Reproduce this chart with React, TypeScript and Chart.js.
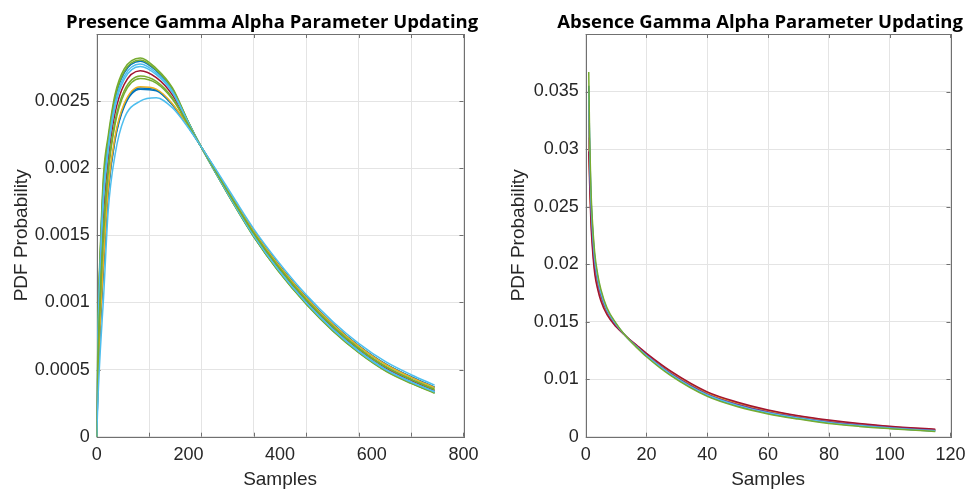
import { useEffect, useRef } from 'react';
import { Chart, registerables } from 'chart.js';

Chart.register(...registerables);

const FONT = "'Liberation Sans', Arial, Helvetica, sans-serif";
const TITLE_FONT = "'Open Sans', 'DejaVu Sans', sans-serif";
const TEXT = '#262626';
const FRAME = '#707070';
const GRID = '#e4e4e4';

// MATLAB default colours
const BLUE = '#0072BD';
const ORANGE = '#D95319';
const YELLOW = '#EDB120';
const PURPLE = '#7E2F8E';
const GREEN = '#77AC30';
const LIGHTBLUE = '#4DBEEE';
const DARKRED = '#A2142F';

// ---------- Presence panel ----------
const presenceTitle = 'Presence Gamma Alpha Parameter Updating';
const presenceX = [0, 3, 8, 15, 25, 40, 60, 95, 130, 165, 200, 226, 260, 300, 344, 395, 458, 516, 572, 631, 687, 737];
const presenceA = [0, 0.00085, 0.00142, 0.00196, 0.00224, 0.00255, 0.00274, 0.002822, 0.002743, 0.0026, 0.002345, 0.00217, 0.001961, 0.0017245, 0.001481, 0.001238, 0.000983, 0.000785, 0.000624, 0.000487, 0.000395, 0.000324];
const presenceB = [0, 0.0008225, 0.0013815, 0.001914, 0.002212, 0.0025275, 0.0027215, 0.0028067, 0.0027321, 0.0025915, 0.0023425, 0.00217, 0.0019625, 0.001727, 0.001484, 0.0012415, 0.0009865, 0.0007885, 0.0006275, 0.0004905, 0.0003982, 0.000327];
const presenceC = [0, 0.000806, 0.0013584, 0.0018864, 0.0021952, 0.002514, 0.0027104, 0.0027974, 0.0027255, 0.0025864, 0.002341, 0.00217, 0.0019634, 0.0017285, 0.0014858, 0.0012436, 0.0009886, 0.0007906, 0.0006296, 0.0004926, 0.0004002, 0.0003288];
const presenceD = [0, 0.0007675, 0.0013045, 0.001822, 0.002156, 0.0024825, 0.0026845, 0.002776, 0.0027102, 0.0025745, 0.0023375, 0.00217, 0.0019655, 0.001732, 0.00149, 0.0012485, 0.0009935, 0.0007955, 0.0006345, 0.0004975, 0.0004047, 0.000333];
const presenceE = [0, 0.0007345, 0.0012583, 0.0017668, 0.0021224, 0.0024555, 0.0026623, 0.0027575, 0.002697, 0.0025643, 0.0023345, 0.00217, 0.0019673, 0.001735, 0.0014936, 0.0012527, 0.0009977, 0.0007997, 0.0006387, 0.0005017, 0.0004086, 0.0003366];
const presenceF = [0, 0.0006795, 0.0011813, 0.0016748, 0.0020664, 0.0024105, 0.0026253, 0.0027268, 0.0026751, 0.0025473, 0.0023295, 0.00217, 0.0019703, 0.00174, 0.0014996, 0.0012597, 0.0010047, 0.0008067, 0.0006457, 0.0005087, 0.0004151, 0.0003426];
const presenceG = [0, 0.000608, 0.0010812, 0.0015552, 0.0019936, 0.002352, 0.0025772, 0.0026869, 0.0026466, 0.0025252, 0.002323, 0.00217, 0.0019742, 0.0017465, 0.0015074, 0.0012688, 0.0010138, 0.0008158, 0.0006548, 0.0005178, 0.0004236, 0.0003504];
const presenceH = [0, 0.000575, 0.001035, 0.0015, 0.00196, 0.002325, 0.002555, 0.0026685, 0.0026335, 0.002515, 0.00232, 0.00217, 0.001976, 0.0017495, 0.001511, 0.001273, 0.001018, 0.00082, 0.000659, 0.000522, 0.0004275, 0.000354];
const presenceI = [0, 0.000465, 0.000881, 0.001316, 0.001848, 0.002235, 0.002481, 0.0026071, 0.0025897, 0.002481, 0.00231, 0.00217, 0.001982, 0.0017595, 0.001523, 0.001287, 0.001032, 0.000834, 0.000673, 0.000536, 0.0004405, 0.000366];
const presenceJ = [0, 0.0004485, 0.0008579, 0.0012884, 0.0018312, 0.0022215, 0.0024699, 0.0025979, 0.0025831, 0.0024759, 0.0023085, 0.00217, 0.0019829, 0.001761, 0.0015248, 0.0012891, 0.0010341, 0.0008361, 0.0006751, 0.0005381, 0.0004424, 0.0003678];
const presenceK = [0, 0.000432, 0.0008348, 0.0012608, 0.0018144, 0.002208, 0.0024588, 0.0025887, 0.0025766, 0.0024708, 0.002307, 0.00217, 0.0019838, 0.0017625, 0.0015266, 0.0012912, 0.0010362, 0.0008382, 0.0006772, 0.0005402, 0.0004444, 0.0003696];
const presenceL = [0, 0.0003, 0.00065, 0.00104, 0.00168, 0.0021, 0.00237, 0.0025, 0.002525, 0.00245, 0.0023, 0.00217, 0.001991, 0.0017745, 0.001541, 0.001308, 0.001053, 0.000855, 0.000694, 0.000557, 0.00046, 0.000384];
const presenceSeries = [
  { values: presenceL, color: LIGHTBLUE },
  { values: presenceH, color: GREEN },
  { values: presenceG, color: GREEN },
  { values: presenceI, color: YELLOW },
  { values: presenceE, color: LIGHTBLUE },
  { values: presenceD, color: LIGHTBLUE },
  { values: presenceF, color: DARKRED },
  { values: presenceB, color: GREEN },
  { values: presenceA, color: GREEN },
  { values: presenceC, color: BLUE },
  { values: presenceK, color: BLUE },
  { values: presenceJ, color: BLUE },
];
const presenceXLabels = { min: 0, max: 800, step: 200 };
const presenceXGridCount = 8;
const presenceY = { min: 0, max: 0.003, step: 0.0005 };

// ---------- Absence panel ----------
const absenceTitle = 'Absence Gamma Alpha Parameter Updating';
const absenceX = [1, 1.3, 1.7, 2.2, 3, 4, 5, 7, 10, 13, 17, 20, 28, 40, 50, 60, 70, 80, 90, 100, 115];
const absenceA = [0.0367, 0.031, 0.0267, 0.0238, 0.0209, 0.01905, 0.0178, 0.0162, 0.01485, 0.0138, 0.0127, 0.01195, 0.0103, 0.0085, 0.0076, 0.006975, 0.00653, 0.00615, 0.005895, 0.0057, 0.00545];
const absenceB = [0.0355, 0.0302, 0.0261, 0.02332, 0.02054, 0.01879, 0.0176, 0.01608, 0.01479, 0.0138, 0.01274, 0.01201, 0.01038, 0.00858, 0.00768, 0.007045, 0.00659, 0.00621, 0.005945, 0.00574, 0.00549];
const absenceC = [0.035, 0.0298, 0.0258, 0.02308, 0.02036, 0.01866, 0.0175, 0.01602, 0.01476, 0.0138, 0.01276, 0.01204, 0.01042, 0.00862, 0.00772, 0.00708, 0.00662, 0.00624, 0.00597, 0.00576, 0.00551];
const absenceD = [0.0342, 0.029, 0.0252, 0.0226, 0.02, 0.0184, 0.0173, 0.0159, 0.0147, 0.0138, 0.0128, 0.0121, 0.0105, 0.0087, 0.0078, 0.00715, 0.00668, 0.0063, 0.00602, 0.0058, 0.00555];
const absenceE = [0.0325, 0.0284, 0.02475, 0.02224, 0.01973, 0.018205, 0.01715, 0.01581, 0.014655, 0.0138, 0.01283, 0.012145, 0.01056, 0.00876, 0.00786, 0.007203, 0.006725, 0.006345, 0.006058, 0.00583, 0.00558];
const absenceF = [0.031, 0.0278, 0.0243, 0.02188, 0.01946, 0.01801, 0.017, 0.01572, 0.01461, 0.0138, 0.01286, 0.01219, 0.01062, 0.00882, 0.00792, 0.007255, 0.00677, 0.00639, 0.006095, 0.00586, 0.00561];
const absenceG = [0.0298, 0.027, 0.0237, 0.0214, 0.0191, 0.01775, 0.0168, 0.0156, 0.01455, 0.0138, 0.0129, 0.01225, 0.0107, 0.0089, 0.008, 0.007325, 0.00683, 0.00645, 0.006145, 0.0059, 0.00565];
const absenceSeries = [
  { values: absenceA, color: GREEN },
  { values: absenceC, color: LIGHTBLUE },
  { values: absenceD, color: PURPLE },
  { values: absenceG, color: DARKRED },
  { values: absenceE, color: YELLOW },
  { values: absenceF, color: ORANGE },
  { values: absenceB, color: BLUE },
];
const absenceXAxis = { min: 0, max: 120, step: 20 };
const absenceY = { min: 0.005, max: 0.04, step: 0.005 };
const absenceBottomLabel = '0';

const X_TITLE = 'Samples';
const Y_TITLE = 'PDF Probability';

const W = 973;
const H = 491;

function framePlugin(title: string, gridXId: string) {
  return {
    id: 'frameAndTitle',
    beforeDatasetsDraw(chart: any) {
      const { ctx, chartArea: a } = chart;
      const xs = chart.scales[gridXId];
      const ys = chart.scales.y;
      ctx.save();
      ctx.strokeStyle = FRAME;
      ctx.lineWidth = 1;
      const tl = 4;
      ctx.beginPath();
      xs.ticks.forEach((t: any) => {
        const px = Math.round(xs.getPixelForValue(t.value)) + 0.5;
        ctx.moveTo(px, a.bottom);
        ctx.lineTo(px, a.bottom - tl);
        ctx.moveTo(px, a.top);
        ctx.lineTo(px, a.top + tl);
      });
      ys.ticks.forEach((t: any) => {
        const py = Math.round(ys.getPixelForValue(t.value)) + 0.5;
        ctx.moveTo(a.left, py);
        ctx.lineTo(a.left + tl, py);
        ctx.moveTo(a.right, py);
        ctx.lineTo(a.right - tl, py);
      });
      ctx.stroke();
      ctx.strokeRect(Math.round(a.left) + 0.5, Math.round(a.top) + 0.5, Math.round(a.right - a.left), Math.round(a.bottom - a.top));
      ctx.restore();
    },
    afterDraw(chart: any) {
      const { ctx, chartArea: a } = chart;
      ctx.save();
      ctx.font = `bold 18.5px ${TITLE_FONT}`;
      ctx.fillStyle = '#000';
      ctx.textAlign = 'center';
      ctx.textBaseline = 'alphabetic';
      ctx.fillText(title, (a.left + a.right) / 2 - 8, a.top - 6);
      ctx.restore();
    },
  };
}

function fmt(v: number, digits: number) {
  return String(parseFloat(v.toFixed(digits)));
}

function buildPresence(): any {
  return {
    type: 'line',
    data: {
      datasets: presenceSeries.map((s, i) => ({
        label: 'curve ' + (i + 1),
        data: presenceX.map((x, j) => ({ x, y: s.values[j] })),
        borderColor: s.color,
        borderWidth: 1.5,
        pointRadius: 0,
        fill: false,
        cubicInterpolationMode: 'monotone',
        xAxisID: 'x',
        yAxisID: 'y',
      })),
    },
    options: {
      responsive: false,
      animation: false,
      events: [],
      layout: { padding: { top: 34, right: 17.7, bottom: 0, left: 0 } },
      plugins: { legend: { display: false }, title: { display: false }, tooltip: { enabled: false } },
      scales: {
        x: {
          type: 'linear',
          position: 'bottom',
          min: presenceXLabels.min,
          max: presenceXLabels.max,
          grid: { display: false, drawTicks: false },
          border: { display: false },
          ticks: { stepSize: presenceXLabels.step, padding: 7.5, color: TEXT, font: { size: 18, family: FONT }, maxRotation: 0, callback: (v: number) => fmt(v, 0) },
          title: { display: true, text: X_TITLE, color: TEXT, font: { size: 19, family: FONT }, padding: { top: 0, bottom: 0 } },
          afterFit: (s: any) => { s.height = 54.3; },
        },
        xg: {
          type: 'linear',
          position: 'bottom',
          min: presenceXLabels.min,
          max: presenceXLabels.max,
          grid: { display: true, color: GRID, drawTicks: false },
          border: { display: false },
          ticks: { display: false, count: presenceXGridCount },
          afterFit: (s: any) => { s.height = 0; },
        },
        y: {
          type: 'linear',
          min: presenceY.min,
          max: presenceY.max,
          grid: { color: GRID, drawTicks: false },
          border: { display: false },
          ticks: {
            stepSize: presenceY.step,
            padding: 7,
            color: TEXT,
            font: { size: 18, family: FONT },
            callback: (v: number) => (v >= presenceY.max - 1e-9 ? '' : fmt(v, 4)),
          },
          title: { display: true, text: Y_TITLE, color: TEXT, font: { size: 19, family: FONT }, padding: { top: 10.3, bottom: 0 } },
          afterFit: (s: any) => { s.width = 96.7; },
        },
      },
    },
    plugins: [framePlugin(presenceTitle, 'xg')],
  };
}

function buildAbsence(): any {
  return {
    type: 'line',
    data: {
      datasets: absenceSeries.map((s, i) => ({
        label: 'curve ' + (i + 1),
        data: absenceX.map((x, j) => ({ x, y: s.values[j] })),
        borderColor: s.color,
        borderWidth: 1.5,
        pointRadius: 0,
        fill: false,
        cubicInterpolationMode: 'monotone',
      })),
    },
    options: {
      responsive: false,
      animation: false,
      events: [],
      layout: { padding: { top: 34, right: 16.3, bottom: 0, left: 0 } },
      plugins: { legend: { display: false }, title: { display: false }, tooltip: { enabled: false } },
      scales: {
        x: {
          type: 'linear',
          position: 'bottom',
          min: absenceXAxis.min,
          max: absenceXAxis.max,
          grid: { display: true, color: GRID, drawTicks: false },
          border: { display: false },
          ticks: { stepSize: absenceXAxis.step, padding: 7.5, color: TEXT, font: { size: 18, family: FONT }, maxRotation: 0, callback: (v: number) => fmt(v, 0) },
          title: { display: true, text: X_TITLE, color: TEXT, font: { size: 19, family: FONT }, padding: { top: 0, bottom: 0 } },
          afterFit: (s: any) => { s.height = 54.3; },
        },
        y: {
          type: 'linear',
          min: absenceY.min,
          max: absenceY.max,
          grid: { color: GRID, drawTicks: false },
          border: { display: false },
          ticks: {
            stepSize: absenceY.step,
            padding: 7,
            color: TEXT,
            font: { size: 18, family: FONT },
            callback: (v: number) => {
              if (v >= absenceY.max - 1e-9) return '';
              if (Math.abs(v - absenceY.min) < 1e-9) return absenceBottomLabel;
              return fmt(v, 3);
            },
          },
          title: { display: true, text: Y_TITLE, color: TEXT, font: { size: 19, family: FONT }, padding: { top: 17.6, bottom: 0 } },
          afterFit: (s: any) => { s.width = 95.7; },
        },
      },
    },
    plugins: [framePlugin(absenceTitle, 'x')],
  };
}

function Panel({ left, width, build }: { left: number; width: number; build: () => any }) {
  const ref = useRef<HTMLCanvasElement | null>(null);
  useEffect(() => {
    if (!ref.current) return;
    const chart = new Chart(ref.current, build());
    return () => chart.destroy();
  }, [build]);
  return (
    <canvas
      ref={ref}
      width={width}
      height={H}
      style={{ position: 'absolute', left, top: 0, width, height: H, display: 'block' }}
    />
  );
}

export default function App() {
  return (
    <div style={{ position: 'absolute', left: 0, top: 0, width: W, height: H, background: '#fff', overflow: 'hidden' }}>
      <Panel left={0} width={486} build={buildPresence} />
      <Panel left={490} width={483} build={buildAbsence} />
    </div>
  );
}
